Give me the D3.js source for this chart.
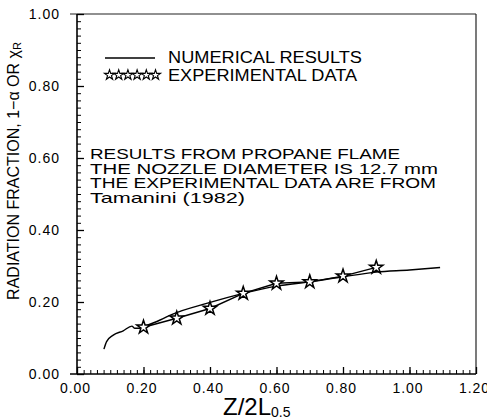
<!DOCTYPE html>
<html><head><meta charset="utf-8">
<script src="https://cdn.jsdelivr.net/npm/d3@7"></script>
<style>
html,body{margin:0;padding:0;background:#fff;}
svg{display:block;}
text{font-family:"Liberation Sans",Arial,sans-serif;fill:#000;}
</style></head>
<body>
<svg id="chart" width="487" height="420"></svg>
<script>
// ---- data ----
const numX = [0.081,0.089,0.109,0.139,0.165,0.174,0.189,0.200,0.250,0.290,0.390,0.500,0.600,0.700,0.800,0.900,1.000,1.092];
const numY = [0.069,0.090,0.108,0.120,0.133,0.127,0.127,0.131,0.150,0.167,0.196,0.224,0.244,0.256,0.270,0.283,0.289,0.296];
const expX = [0.2,0.3,0.4,0.5,0.6,0.7,0.8,0.9];
const expY = [0.130,0.155,0.182,0.224,0.252,0.256,0.272,0.296];
const xTicks = [0,0.2,0.4,0.6,0.8,1.0,1.2];
const yTicks = [0,0.2,0.4,0.6,0.8,1.0];
const legendLabels = ["NUMERICAL RESULTS","EXPERIMENTAL DATA"];
const noteLines = ["RESULTS FROM PROPANE FLAME","THE NOZZLE DIAMETER IS 12.7 mm","THE EXPERIMENTAL DATA ARE FROM","Tamanini (1982)"];

// ---- layout ----
const L=77,R=476,T=14,B=374;
const svg=d3.select("#chart");
const x=d3.scaleLinear().domain([0,1.2]).range([L,R]);
const y=d3.scaleLinear().domain([0,1.0]).range([B,T]);
const fmt=d3.format(".2f");

// frame
svg.append("line").attr("x1",70).attr("x2",R).attr("y1",T).attr("y2",T).attr("stroke","#222").attr("stroke-width",1.2);
svg.append("line").attr("x1",R).attr("x2",R).attr("y1",T).attr("y2",B).attr("stroke","#222").attr("stroke-width",1.2);
svg.append("line").attr("x1",70).attr("x2",R).attr("y1",B).attr("y2",B).attr("stroke","#000").attr("stroke-width",1.6);
svg.append("line").attr("x1",L).attr("x2",L).attr("y1",T).attr("y2",B).attr("stroke","#000").attr("stroke-width",1.6);

// minor ticks
const xMinor=d3.range(0,61).map(i=>i*0.02);
const yMinor=d3.range(0,51).map(i=>i*0.02);
svg.append("g").attr("transform",`translate(0,${B})`)
  .call(d3.axisBottom(x).tickValues(xMinor).tickSize(-4).tickFormat("").tickSizeOuter(0))
  .call(g=>g.select(".domain").remove())
  .call(g=>g.selectAll("line").attr("stroke","#000").attr("stroke-width",1));
svg.append("g").attr("transform",`translate(${L},0)`)
  .call(d3.axisLeft(y).tickValues(yMinor).tickSize(-4).tickFormat("").tickSizeOuter(0))
  .call(g=>g.select(".domain").remove())
  .call(g=>g.selectAll("line").attr("stroke","#000").attr("stroke-width",1));
// major ticks + labels
svg.append("g").attr("transform",`translate(0,${B})`)
  .call(d3.axisBottom(x).tickValues(xTicks).tickSize(-7).tickFormat(fmt).tickSizeOuter(0))
  .call(g=>g.select(".domain").remove())
  .call(g=>g.selectAll("line").attr("stroke","#000").attr("stroke-width",1.3))
  .call(g=>g.selectAll("text").attr("y",19).attr("dy",0).attr("dx",-2)
      .style("font-size","14px").style("letter-spacing","1px").style("font-family","Liberation Sans, Arial, sans-serif"));
svg.append("g").attr("transform",`translate(${L},0)`)
  .call(d3.axisLeft(y).tickValues(yTicks).tickSize(-7).tickFormat(fmt).tickSizeOuter(0))
  .call(g=>g.select(".domain").remove())
  .call(g=>g.selectAll("line").attr("stroke","#000").attr("stroke-width",1.3))
  .call(g=>g.selectAll("text").attr("x",-17).attr("dy","0.35em")
      .style("font-size","14px").style("letter-spacing","1px").style("font-family","Liberation Sans, Arial, sans-serif"));

// curves
const numData=numX.map((v,i)=>[v,numY[i]]);
const expData=expX.map((v,i)=>[v,expY[i]]);
const line=d3.line().x(d=>x(d[0])).y(d=>y(d[1])).curve(d3.curveMonotoneX);
svg.append("path").datum(numData).attr("d",line).attr("fill","none").attr("stroke","#000").attr("stroke-width",1.4);
const line2=d3.line().x(d=>x(d[0])).y(d=>y(d[1]));
svg.append("path").datum(expData).attr("d",line2).attr("fill","none").attr("stroke","#000").attr("stroke-width",1.4);
const star=d3.symbol().type(d3.symbolStar);
svg.append("g").selectAll("path").data(expData).join("path")
  .attr("transform",d=>`translate(${x(d[0])},${y(d[1])})`)
  .attr("d",star.size(55)()).attr("fill","#fff").attr("stroke","#000").attr("stroke-width",1.5);

// legend
svg.append("line").attr("x1",105).attr("x2",155).attr("y1",58).attr("y2",58).attr("stroke","#000").attr("stroke-width",1.3);
const legStars=d3.range(6).map(i=>109.5+i*9.2);
svg.append("g").selectAll("path").data(legStars).join("path")
  .attr("transform",d=>`translate(${d},75)`)
  .attr("d",d3.symbol().type(d3.symbolStar).size(32)()).attr("fill","#fff").attr("stroke","#000").attr("stroke-width",1.1);
const legW=[194,189];
svg.append("g").selectAll("text").data(legendLabels).join("text")
  .attr("x",168).attr("y",(d,i)=>63+i*17.5).attr("textLength",(d,i)=>legW[i]).attr("lengthAdjust","spacingAndGlyphs")
  .style("font-size","16px").text(d=>d);

// note
const noteW=[310,348,346,155];
svg.append("g").selectAll("text").data(noteLines).join("text")
  .attr("x",90).attr("y",(d,i)=>159+i*14.7).attr("textLength",(d,i)=>noteW[i]).attr("lengthAdjust","spacingAndGlyphs")
  .style("font-size","15px").text(d=>d);

// axis titles
const xt=svg.append("text").attr("x",223).attr("y",415).style("font-size","24px");
xt.append("tspan").text("Z/2L");
xt.append("tspan").attr("dy",2).style("font-size","14px").text("0.5");
const yt=svg.append("text").attr("transform","translate(19,171) rotate(-90)").attr("text-anchor","middle").style("font-size","16px");
yt.append("tspan").text("RADIATION FRACTION, 1\u2212\u03B1 OR \u03C7");
yt.append("tspan").attr("dy",2).style("font-size","11px").text("R");
</script>
</body></html>
